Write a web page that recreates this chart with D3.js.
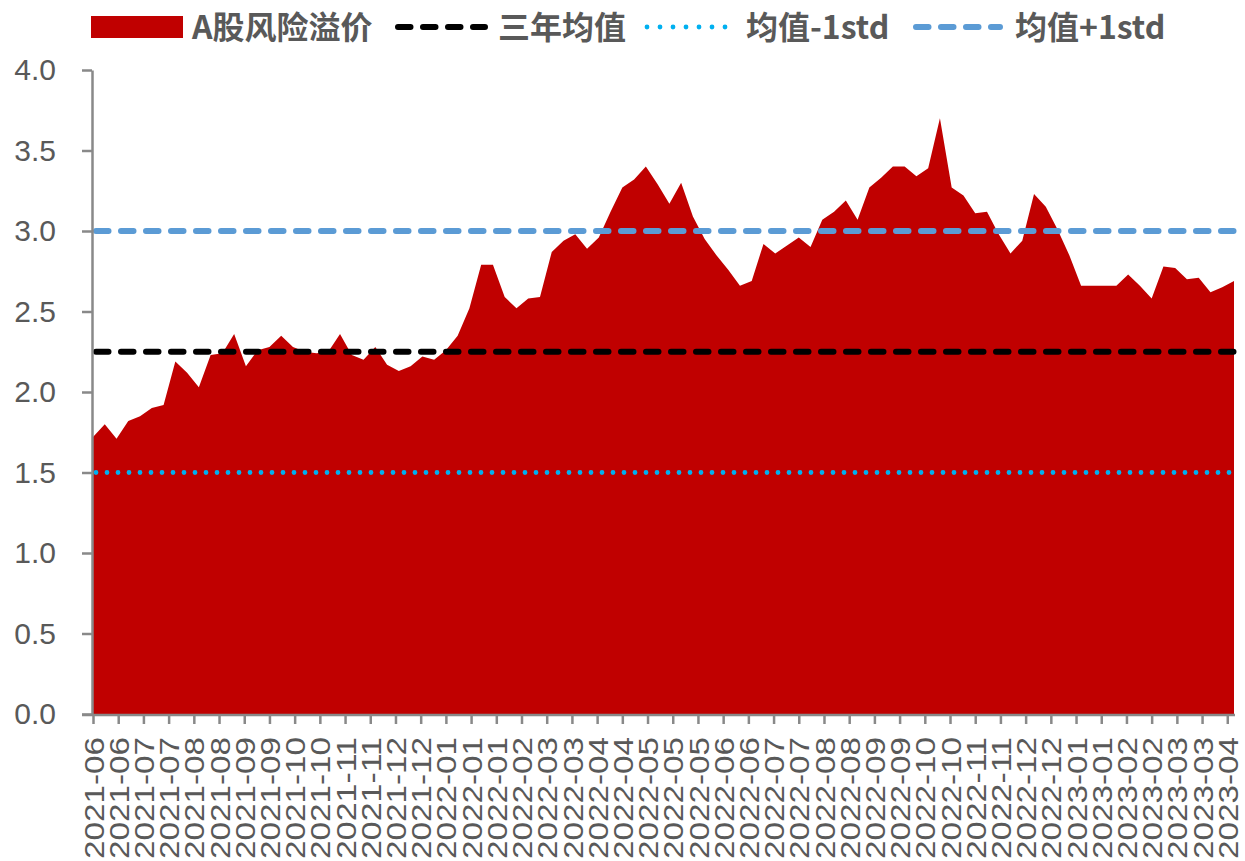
<!DOCTYPE html>
<html>
<head>
<meta charset="utf-8">
<script src="https://cdn.jsdelivr.net/npm/d3@7"></script>
<style>
  html, body { margin: 0; padding: 0; background: #fff; }
  svg { display: block; }
  .axis text { font-family: "Liberation Sans", Arial, sans-serif; fill: #595959; }
  .axis path, .axis line { stroke: #898989; stroke-width: 2.5; }
  .legend text { font-family: "Noto Sans CJK SC", sans-serif; font-weight: bold; fill: #595959; }
</style>
</head>
<body>
<svg id="chart" width="1245" height="861"></svg>
<script>
// Weekly series, first point 2021-06-05.
const startDate = new Date(Date.UTC(2021, 5, 5));

const premium = [
  1.72, 1.80, 1.71, 1.82, 1.85, 1.90, 1.92, 2.19, 2.12, 2.03,
  2.23, 2.24, 2.36, 2.16, 2.26, 2.28, 2.35, 2.28, 2.25, 2.24,
  2.25, 2.36, 2.23, 2.20, 2.28, 2.17, 2.13, 2.16, 2.22, 2.20,
  2.26, 2.35, 2.52, 2.79, 2.79, 2.59, 2.52, 2.58, 2.59, 2.87,
  2.94, 2.98, 2.89, 2.96, 3.12, 3.27, 3.32, 3.40, 3.29, 3.17,
  3.30, 3.09, 2.95, 2.85, 2.76, 2.66, 2.69, 2.92, 2.86, 2.91,
  2.96, 2.90, 3.07, 3.12, 3.19, 3.07, 3.27, 3.33, 3.40, 3.40,
  3.34, 3.39, 3.70, 3.27, 3.22, 3.11, 3.12, 2.98, 2.86, 2.94,
  3.23, 3.15, 3.01, 2.85, 2.66, 2.66, 2.66, 2.66, 2.73, 2.66,
  2.58, 2.78, 2.77, 2.70, 2.71, 2.62, 2.65, 2.69,
];

const mean3y = 2.25;
const meanMinusStd = 1.5;
const meanPlusStd = 3.0;

// Date axis, one tick every 15 days from the first point.
const tickLabels = [
  '2021-06', '2021-06', '2021-07', '2021-07', '2021-08', '2021-08', '2021-09', '2021-09',
  '2021-10', '2021-10', '2021-11', '2021-11', '2021-12', '2021-12',
  '2022-01', '2022-01', '2022-01', '2022-02', '2022-03', '2022-03', '2022-04', '2022-04',
  '2022-05', '2022-05', '2022-05', '2022-06', '2022-06', '2022-07', '2022-07', '2022-08',
  '2022-08', '2022-09', '2022-09', '2022-10', '2022-10', '2022-11', '2022-11', '2022-12',
  '2022-12', '2023-01', '2023-01', '2023-02', '2023-02', '2023-03', '2023-03', '2023-04',
];
const yTicks = [0, 0.5, 1.0, 1.5, 2.0, 2.5, 3.0, 3.5, 4.0];

const legendItems = [
  { key: 'area', label: 'A股风险溢价' },
  { key: 'mean', label: '三年均值' },
  { key: 'low', label: '均值-1std' },
  { key: 'high', label: '均值+1std' },
];

(function drawChart() {
  const dates = premium.map((d, i) => d3.utcDay.offset(startDate, i * 7));
  const tickDates = tickLabels.map((d, i) => d3.utcDay.offset(startDate, i * 15));

  const svg = d3.select('#chart');
  const plotLeft = 93;
  const plotRight = 1234;
  const plotTop = 70;
  const plotBottom = 714;

  const x = d3.scaleUtc()
    .domain([dates[0], dates[dates.length - 1]])
    .range([plotLeft, plotRight]);

  const y = d3.scaleLinear()
    .domain([0, 4])
    .range([plotBottom, plotTop]);

  const lineStyles = {
    mean: { stroke: '#000000', width: 6, dash: '12.5 12.5' },
    low: { stroke: '#00B0F0', width: 4.8, dash: '0 11' },
    high: { stroke: '#5B9BD5', width: 6, dash: '12.5 12.5' },
  };

  // Area
  const area = d3.area()
    .x((d, i) => x(dates[i]))
    .y0(y(0))
    .y1((d) => y(d));

  svg.append('path')
    .datum(premium)
    .attr('d', area)
    .attr('fill', '#C00000');

  // Reference lines
  const refLines = [
    { key: 'mean', value: mean3y },
    { key: 'low', value: meanMinusStd },
    { key: 'high', value: meanPlusStd },
  ];

  svg.append('g')
    .selectAll('line')
    .data(refLines)
    .join('line')
      .attr('x1', x(dates[0]) + 3)
      .attr('x2', x(dates[dates.length - 1]))
      .attr('y1', (d) => y(d.value))
      .attr('y2', (d) => y(d.value))
      .attr('stroke', (d) => lineStyles[d.key].stroke)
      .attr('stroke-width', (d) => lineStyles[d.key].width)
      .attr('stroke-dasharray', (d) => lineStyles[d.key].dash)
      .attr('stroke-linecap', 'round');

  // Axes
  const yAxis = svg.append('g')
    .attr('class', 'axis')
    .attr('transform', `translate(${plotLeft - 1},0)`)
    .call(d3.axisLeft(y)
      .tickValues(yTicks)
      .tickSize(10)
      .tickSizeOuter(0)
      .tickPadding(26)
      .tickFormat(d3.format('.1f')));
  yAxis.selectAll('text').attr('font-size', 30);

  const xAxis = svg.append('g')
    .attr('class', 'axis')
    .attr('transform', `translate(0,${plotBottom + 1})`)
    .call(d3.axisBottom(x)
      .tickValues(tickDates)
      .tickSize(9)
      .tickSizeOuter(0)
      .tickFormat((d, i) => tickLabels[i]));
  xAxis.select('.domain').attr('d', `M${plotLeft - 11},0H${plotRight + 1}`);
  xAxis.selectAll('text')
    .attr('font-size', 28)
    .attr('text-anchor', 'end')
    .attr('transform', 'rotate(-90)')
    .attr('x', -22)
    .attr('y', 0)
    .attr('dy', '0.36em')
    .attr('textLength', 122)
    .attr('lengthAdjust', 'spacingAndGlyphs');

  // Legend
  const legendPos = [
    { sx: 91, sw: 92, tx: 192 },
    { sx: 398, sw: 87, tx: 498 },
    { sx: 647, sw: 80, tx: 746 },
    { sx: 916, sw: 84, tx: 1015 },
  ];
  const ly = 27;

  const legend = svg.append('g').attr('class', 'legend');
  legendItems.forEach((item, i) => {
    const p = legendPos[i];
    if (item.key === 'area') {
      legend.append('rect')
        .attr('x', p.sx).attr('y', ly - 11)
        .attr('width', p.sw).attr('height', 22)
        .attr('fill', '#C00000');
    } else {
      const s = lineStyles[item.key];
      legend.append('line')
        .attr('x1', p.sx).attr('x2', p.sx + p.sw)
        .attr('y1', ly).attr('y2', ly)
        .attr('stroke', s.stroke)
        .attr('stroke-width', s.width)
        .attr('stroke-dasharray', item.key === 'low' ? '0 13' : s.dash)
        .attr('stroke-linecap', 'round');
    }
    legend.append('text')
      .attr('x', p.tx)
      .attr('y', ly)
      .attr('dy', '0.36em')
      .attr('font-size', 32)
      .text(item.label);
  });
})();
</script>
</body>
</html>
